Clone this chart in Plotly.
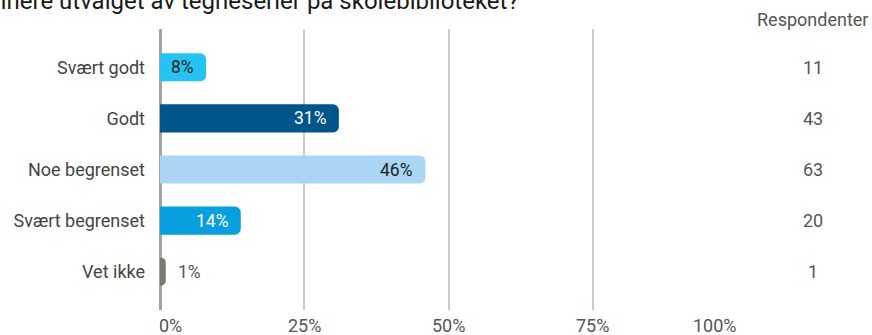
import plotly.graph_objects as go

# Survey answers
categories = ["Svært godt", "Godt", "Noe begrenset", "Svært begrenset", "Vet ikke"]
percent = [8, 31, 46, 14, 1]
respondents = [11, 43, 63, 20, 1]
bar_colors = ["#24c3f2", "#00558b", "#aad5f5", "#089fe0", "#7d7c69"]
label_colors = ["#1e1e1e", "#ffffff", "#1e1e1e", "#ffffff", "#555555"]
tick_values = [0, 25, 50, 75, 100]
tick_labels = ["0%", "25%", "50%", "75%", "100%"]
title_text = "Hvordan vil du definere utvalget av tegneserier på skolebiblioteket?"

FONT = "Roboto, 'Noto Sans', sans-serif"
W, H = 872, 335
L, R, T, B = 160, 135, 29, 25
plot_h = H - T - B

fig = go.Figure(
    go.Bar(
        x=percent,
        y=categories,
        orientation="h",
        marker=dict(color=bar_colors, cornerradius=6, line=dict(width=0)),
        hoverinfo="skip",
    )
)

annotations = []

# value labels at the bar ends (inside for wide bars, outside for the tiny one)
for cat, p, col in zip(categories, percent, label_colors):
    inside = p >= 5
    annotations.append(dict(
        x=p, y=cat, xref="x", yref="y",
        text=f"{p}%", showarrow=False,
        xanchor="right" if inside else "left",
        xshift=-10 if inside else 10,
        font=dict(family=FONT, size=17.5, color=col),
    ))

# respondent counts column
for cat, n in zip(categories, respondents):
    annotations.append(dict(
        x=1, y=cat, xref="paper", yref="y",
        text=str(n), showarrow=False, xanchor="center", xshift=76,
        font=dict(family=FONT, size=18, color="#555555"),
    ))
annotations.append(dict(
    x=1, y=1, xref="paper", yref="paper",
    text="Respondenter", showarrow=False, xanchor="center", yanchor="middle",
    xshift=75, yshift=10,
    font=dict(family=FONT, size=18, color="#555555"),
))

# x tick labels, kept inside the plot width at both ends
for v, t in zip(tick_values, tick_labels):
    anchor = "left" if v == tick_values[0] else ("right" if v == tick_values[-1] else "center")
    shift = -3 if v == tick_values[0] else (2 if v == tick_values[-1] else 0)
    annotations.append(dict(
        x=v, y=0, xref="x", yref="paper",
        text=t, showarrow=False, xanchor=anchor, yanchor="middle",
        xshift=shift, yshift=-15,
        font=dict(family=FONT, size=18, color="#555555"),
    ))

# question title along the top edge
annotations.append(dict(
    x=(521 - L) / (W - L - R), y=1 + T / plot_h, xref="paper", yref="paper",
    text=title_text, showarrow=False, xanchor="right", yanchor="middle",
    yshift=-1,
    font=dict(family=FONT, size=24, color="#1a1a1a"),
))

fig.update_layout(
    width=W, height=H,
    margin=dict(l=L, r=R, t=T, b=B, pad=0),
    paper_bgcolor="white", plot_bgcolor="white",
    bargap=0.45,
    showlegend=False,
    annotations=annotations,
    font=dict(family=FONT),
    xaxis=dict(
        range=[0, 100], tickvals=tick_values, showticklabels=False,
        showgrid=True, gridcolor="#cccccc", gridwidth=1.5,
        zeroline=True, zerolinecolor="#a3a3a3", zerolinewidth=2.5,
        showline=False, fixedrange=True,
    ),
    yaxis=dict(
        categoryorder="array", categoryarray=categories,
        autorange=False, range=[4.75, -0.75],
        showgrid=False, zeroline=False, showline=False,
        ticks="", ticklabelstandoff=14,
        tickfont=dict(family=FONT, size=18, color="#444444"),
        fixedrange=True,
    ),
)

fig.write_html("out.html", config={"displayModeBar": False})
